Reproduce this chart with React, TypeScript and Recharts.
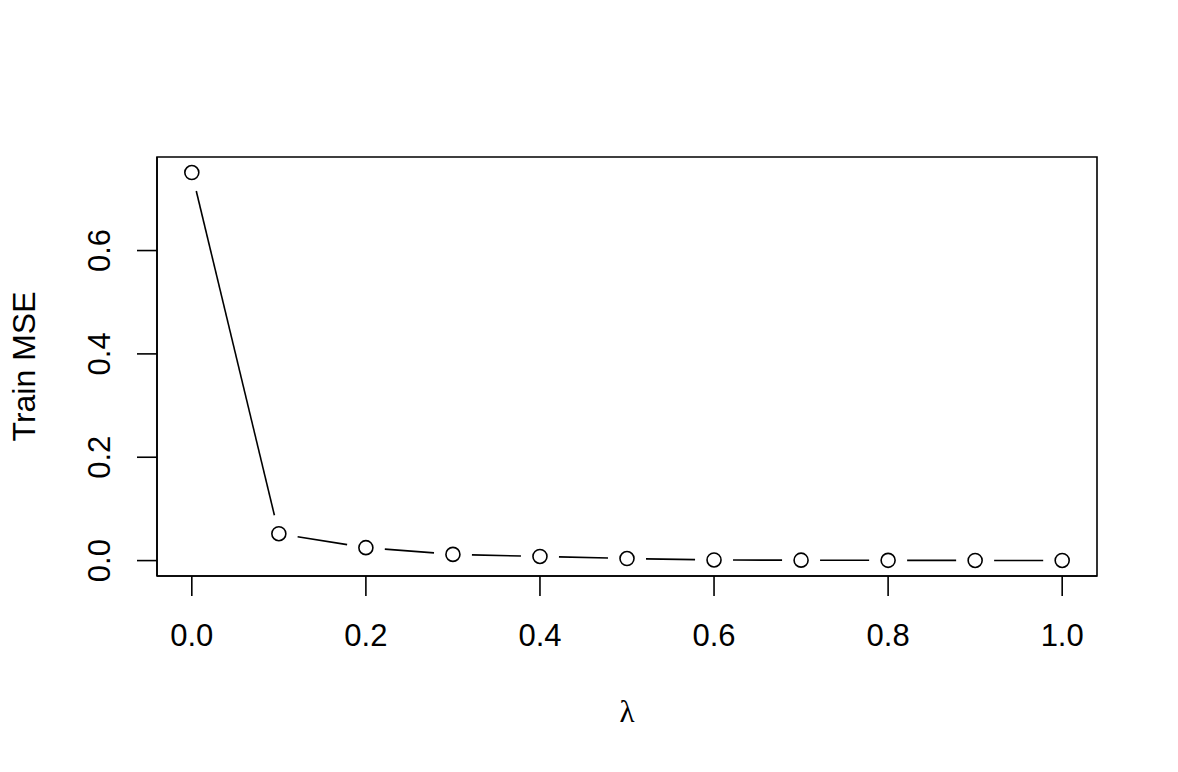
import { LineChart, Line, XAxis, YAxis, ReferenceArea, Label } from 'recharts';

const lambdas = [0, 0.1, 0.2, 0.3, 0.4, 0.5, 0.6, 0.7, 0.8, 0.9, 1.0];
const trainMse = [0.751, 0.052, 0.025, 0.012, 0.008, 0.004, 0.0012, 0.0008, 0.0005, 0.0003, 0.0002];
const xTicks = [0, 0.2, 0.4, 0.6, 0.8, 1.0];
const yTicks = [0, 0.2, 0.4, 0.6];

const data = lambdas.map((l, i) => ({ lambda: l, mse: trainMse[i] }));

// R-style 4% padding on both axes
const xMin = -0.04;
const xMax = 1.04;
const yPad = (Math.max(...trainMse) - Math.min(...trainMse)) * 0.04;
const yMin = Math.min(...trainMse) - yPad;
const yMax = Math.max(...trainMse) + yPad;

const FONT = '"Liberation Sans", Arial, Helvetica, sans-serif';
const GAP = 19;

const XTick = ({ x, y, payload }: any) => (
  <text x={x} y={y + 50} textAnchor="middle" fontFamily={FONT} fontSize={31} fill="#000">
    {payload.value.toFixed(1)}
  </text>
);

const YTick = ({ x, y, payload }: any) => (
  <text
    x={x - 37}
    y={y}
    transform={`rotate(-90 ${x - 37} ${y})`}
    textAnchor="middle"
    dominantBaseline="central"
    fontFamily={FONT}
    fontSize={31}
    fill="#000"
  >
    {payload.value.toFixed(1)}
  </text>
);

// type = "b": circles with line segments that stop short of them
const renderDot = (props: any) => {
  const { cx, cy, index, points } = props;
  const next = points ? points[index + 1] : null;
  let seg = null;
  if (next) {
    const dx = next.x - cx;
    const dy = next.y - cy;
    const d = Math.hypot(dx, dy);
    if (d > 2 * GAP) {
      seg = (
        <line
          x1={cx + (dx / d) * GAP}
          y1={cy + (dy / d) * GAP}
          x2={next.x - (dx / d) * GAP}
          y2={next.y - (dy / d) * GAP}
          stroke="#000"
          strokeWidth={1.6}
        />
      );
    }
  }
  return (
    <g key={`dot-${index}`}>
      {seg}
      <circle cx={cx} cy={cy} r={7} fill="#fff" stroke="#000" strokeWidth={1.6} />
    </g>
  );
};

export default function App() {
  return (
    <div style={{ position: 'absolute', left: 0, top: 0, background: '#fff' }}>
      <LineChart width={1178} height={772} data={data} margin={{ top: 157, right: 81, bottom: 0, left: 0 }}>
        <XAxis
          dataKey="lambda"
          type="number"
          domain={[xMin, xMax]}
          ticks={xTicks}
          allowDataOverflow
          height={196}
          tickSize={20}
          tickMargin={0}
          tick={<XTick />}
          axisLine={{ stroke: '#000', strokeWidth: 1.6 }}
          tickLine={{ stroke: '#000', strokeWidth: 1.6 }}
        >
          <Label
            content={({ viewBox }: any) => (
              <text
                x={viewBox.x + viewBox.width / 2}
                y={viewBox.y + 146}
                textAnchor="middle"
                fontFamily='"Liberation Serif", "DejaVu Serif", serif'
                fontSize={31}
                fill="#000"
              >
                λ
              </text>
            )}
          />
        </XAxis>
        <YAxis
          type="number"
          domain={[yMin, yMax]}
          ticks={yTicks}
          allowDataOverflow
          width={157}
          tickSize={20}
          tickMargin={0}
          tick={<YTick />}
          axisLine={{ stroke: '#000', strokeWidth: 1.6 }}
          tickLine={{ stroke: '#000', strokeWidth: 1.6 }}
        >
          <Label
            content={({ viewBox }: any) => {
              const cx = 24;
              const cy = viewBox.y + viewBox.height / 2;
              return (
                <text
                  x={cx}
                  y={cy}
                  transform={`rotate(-90 ${cx} ${cy})`}
                  textAnchor="middle"
                  dominantBaseline="central"
                  fontFamily={FONT}
                  fontSize={32}
                  fill="#000"
                >
                  Train MSE
                </text>
              );
            }}
          />
        </YAxis>
        <ReferenceArea
          x1={xMin}
          x2={xMax}
          y1={yMin}
          y2={yMax}
          fill="none"
          fillOpacity={0}
          stroke="#000"
          strokeWidth={1.6}
          ifOverflow="visible"
        />
        <Line
          dataKey="mse"
          stroke="none"
          isAnimationActive={false}
          dot={renderDot}
          activeDot={false}
        />
      </LineChart>
    </div>
  );
}
